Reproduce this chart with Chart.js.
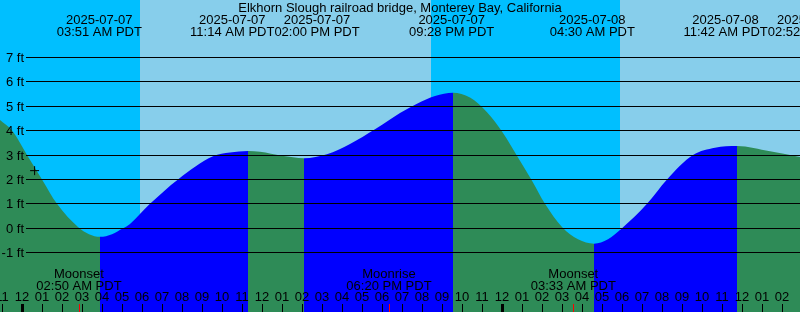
<!DOCTYPE html>
<html>
<head>
<meta charset="utf-8">
<title>Elkhorn Slough tide</title>
<script src="https://cdn.jsdelivr.net/npm/chart.js@4/dist/chart.umd.min.js"></script>
<style>
  html, body { margin: 0; padding: 0; background: #fff; }
  #wrap { width: 800px; height: 312px; }
</style>
</head>
<body>
<div id="wrap"><canvas id="tide" width="800" height="312"></canvas></div>
<script>
// all times are hours since 2025-07-07 00:00 PDT
const viewStart = -1.115;
const viewEnd = 38.885;
const levelMin = -3.426;
const levelMax = 9.345;

const titleText = 'Elkhorn Slough railroad bridge, Monterey Bay, California';

// tide curve
const tideHours = [-1.115, -0.515, 0.235, 0.985, 1.735, 2.785, 3.335, 3.885, 4.485, 5.035,
  5.385, 6.385, 7.785, 9.535, 10.385, 11.285, 11.885, 12.985, 14.085, 15.235,
  16.385, 17.635, 18.385, 18.885, 19.735, 20.635, 21.535, 22.385, 23.235, 24.035,
  24.785, 25.485, 26.135, 26.985, 27.785, 28.585, 29.285, 29.985, 31.235, 32.235,
  33.535, 34.635, 35.735, 37.385, 38.885];
const tideFeet = [4.43, 4.0, 3.0, 2.0, 1.0, 0.05, -0.24, -0.35, -0.24, 0.0,
  0.18, 1.0, 2.0, 2.95, 3.1, 3.16, 3.13, 2.97, 2.87, 3.03,
  3.45, 4.05, 4.45, 4.72, 5.1, 5.42, 5.55, 5.35, 4.75, 3.9,
  2.9, 1.95, 1.0, 0.05, -0.45, -0.63, -0.45, 0.0, 1.0, 2.0,
  3.0, 3.3, 3.37, 3.15, 2.92];

const levelTicks = [-1, 0, 1, 2, 3, 4, 5, 6, 7];

// night spans (sunset -> sunrise)
const nightFrom = [-1.115, 20.435];
const nightTo = [5.885, 29.885];

// high / low tide labels along the top
const tideEventHours = [3.85, 11.233, 14.0, 21.467, 28.5, 35.7, 38.867];
const tideEventDates = ['2025-07-07', '2025-07-07', '2025-07-07', '2025-07-07', '2025-07-08', '2025-07-08', '2025-07-08'];
const tideEventTimes = ['03:51 AM PDT', '11:14 AM PDT', '02:00 PM PDT', '09:28 PM PDT', '04:30 AM PDT', '11:42 AM PDT', '02:52 PM PDT'];

// moon events along the bottom
const moonHours = [2.833, 18.333, 27.55];
const moonNames = ['Moonset', 'Moonrise', 'Moonset'];
const moonTimes = ['02:50 AM PDT', '06:20 PM PDT', '03:33 AM PDT'];

// the small cross marker
const markHours = [0.615];
const markFeet = [2.36];

const dayColor = '#87CEEB';
const nightColor = '#00BFFF';
const risingColor = '#0000FF';
const fallingColor = '#2E8B57';
const FONT = '13px "Liberation Sans", Arial, sans-serif';

const hourLabel = (h) => {
  const v = ((h % 12) + 12) % 12 || 12;
  return String(v).padStart(2, '0');
};

const decor = {
  id: 'tideDecor',
  beforeDatasetsDraw(chart) {
    const { ctx, chartArea: a, scales: { x } } = chart;
    ctx.save();
    ctx.fillStyle = dayColor;
    ctx.fillRect(a.left, a.top, a.width, a.height);
    ctx.fillStyle = nightColor;
    nightFrom.forEach((s, i) => {
      const x0 = Math.round(x.getPixelForValue(s));
      const x1 = Math.round(x.getPixelForValue(nightTo[i]));
      ctx.fillRect(x0, a.top, x1 - x0, a.height);
    });
    ctx.restore();
  },
  afterDatasetsDraw(chart) {
    const { ctx, chartArea: a, scales: { x, y } } = chart;
    ctx.save();
    ctx.font = FONT;
    ctx.fillStyle = '#000';
    ctx.strokeStyle = '#000';
    ctx.lineWidth = 1;

    // level grid + labels
    levelTicks.forEach(v => {
      const py = Math.floor(y.getPixelForValue(v)) + 0.5;
      ctx.beginPath();
      ctx.moveTo(26, py);
      ctx.lineTo(a.right, py);
      ctx.stroke();
      ctx.textAlign = 'right';
      ctx.textBaseline = 'alphabetic';
      ctx.fillText(v + ' ft', 24, py + 4.5);
    });

    // title
    ctx.textAlign = 'center';
    ctx.fillText(titleText, (a.left + a.right) / 2, 12);

    // tide event labels, pushed apart where they collide
    const lab = tideEventHours.map((h, i) => ({
      cx: x.getPixelForValue(h),
      w: Math.max(ctx.measureText(tideEventDates[i]).width, ctx.measureText(tideEventTimes[i]).width)
    }));
    for (let i = 0; i < lab.length - 1; i++) {
      const ov = (lab[i].cx + lab[i].w / 2) - (lab[i + 1].cx - lab[i + 1].w / 2);
      if (ov > 0) { lab[i].cx -= ov / 2; lab[i + 1].cx += ov / 2; }
    }
    lab.forEach((l, i) => {
      ctx.fillText(tideEventDates[i], l.cx, 24);
      ctx.fillText(tideEventTimes[i], l.cx, 36);
    });

    // moon labels
    moonHours.forEach((h, i) => {
      const px = x.getPixelForValue(h);
      ctx.fillText(moonNames[i], px, 278);
      ctx.fillText(moonTimes[i], px, 290);
    });

    // hour labels and ticks
    for (let h = Math.ceil(viewStart); h <= Math.floor(viewEnd); h++) {
      const px = Math.round(x.getPixelForValue(h));
      ctx.fillText(hourLabel(h), px, 301);
      if (((h % 24) + 24) % 24 === 0) {
        ctx.fillRect(px - 1, 304, 3, a.bottom - 304);
      } else {
        ctx.fillRect(px, 304, 1, a.bottom - 304);
      }
    }
    ctx.fillStyle = '#FF0000';
    moonHours.forEach(h => {
      const px = Math.round(x.getPixelForValue(h));
      ctx.fillRect(px, 304, 1, a.bottom - 304);
    });
    ctx.restore();
  }
};

const tidePoints = tideHours.map((h, i) => ({ x: h, y: tideFeet[i] }));
const markPoints = markHours.map((h, i) => ({ x: h, y: markFeet[i] }));

new Chart(document.getElementById('tide'), {
  type: 'line',
  data: {
    datasets: [
      {
        data: markPoints,
        showLine: false,
        fill: false,
        pointStyle: 'cross',
        pointRadius: 4.5,
        borderColor: '#000',
        borderWidth: 1,
        order: 1
      },
      {
        data: tidePoints,
        fill: 'start',
        cubicInterpolationMode: 'monotone',
        borderWidth: 0,
        borderColor: 'rgba(0,0,0,0)',
        backgroundColor: fallingColor,
        pointRadius: 0,
        order: 2,
        segment: {
          backgroundColor: c => (c.p1.parsed.y > c.p0.parsed.y ? risingColor : fallingColor)
        }
      }
    ]
  },
  options: {
    responsive: false,
    devicePixelRatio: 1,
    animation: false,
    events: [],
    layout: { padding: 0, autoPadding: false },
    plugins: { legend: { display: false }, tooltip: { enabled: false } },
    scales: {
      x: { type: 'linear', min: viewStart, max: viewEnd, display: false },
      y: { type: 'linear', min: levelMin, max: levelMax, display: false }
    }
  },
  plugins: [decor]
});
</script>
</body>
</html>
